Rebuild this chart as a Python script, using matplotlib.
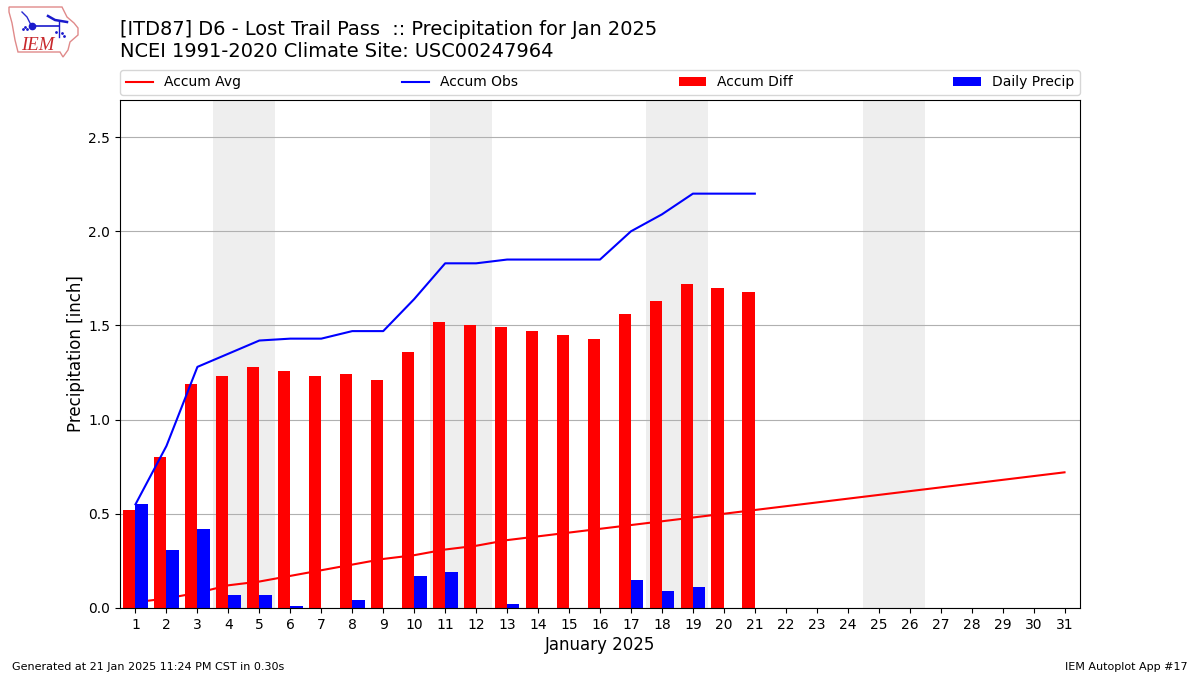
import matplotlib
matplotlib.use("Agg")
import matplotlib.pyplot as plt
from matplotlib.patches import Polygon

days = list(range(1, 32))
accum_avg = [0.03,0.05,0.08,0.12,0.14,0.17,0.20,0.23,0.26,0.28,0.31,0.33,0.36,0.38,0.40,0.42,0.44,0.46,0.48,0.50,0.52,
             0.54,0.56,0.58,0.60,0.62,0.64,0.66,0.68,0.70,0.72]
accum_obs = [0.55,0.86,1.28,1.35,1.42,1.43,1.43,1.47,1.47,1.64,1.83,1.83,1.85,1.85,1.85,1.85,2.00,2.09,2.20,2.20,2.20]
accum_diff = [0.52,0.80,1.19,1.23,1.28,1.26,1.23,1.24,1.21,1.36,1.52,1.50,1.49,1.47,1.45,1.43,1.56,1.63,1.72,1.70,1.68]
daily = [0.55,0.31,0.42,0.07,0.07,0.01,0,0.04,0,0.17,0.19,0,0.02,0,0,0,0.15,0.09,0.11,0,0]
weekend_starts = [4, 11, 18, 25]
title_1 = "[ITD87] D6 - Lost Trail Pass  :: Precipitation for Jan 2025"
title_2 = "NCEI 1991-2020 Climate Site: USC00247964"

fig = plt.figure(figsize=(12, 6.75), dpi=100)
ax = fig.add_axes([120/1200, 1-607.9/675, 960/1200, 508.4/675])
for d in weekend_starts:
    ax.axvspan(d-0.5, d+1.5, color="#eeeeee", zorder=0, lw=0)
w = 0.4
obs_days = days[:21]
ax.plot(days, accum_avg, color="red", lw=1.5, label="Accum Avg", zorder=1.5)
ax.bar([d-w/2 for d in obs_days], accum_diff, w, color="red", label="Accum Diff", zorder=2)
ax.bar([d+w/2 for d in obs_days], daily, w, color="blue", label="Daily Precip", zorder=2)
ax.plot(obs_days, accum_obs, color="blue", lw=1.5, label="Accum Obs", zorder=3)
ax.set_xlim(0.5, 31.5)
ax.set_ylim(0, 2.7)
ax.set_xticks(days)
ax.set_yticks([0,0.5,1,1.5,2,2.5])
ax.set_axisbelow(True)
ax.grid(axis="y", color="#b0b0b0", lw=0.8, zorder=1)
ax.set_xlabel("January 2025", fontsize=12, labelpad=3)
ax.set_ylabel("Precipitation [inch]", fontsize=12, labelpad=2.5)
h, l = ax.get_legend_handles_labels()
order = [l.index(x) for x in ["Accum Avg", "Accum Obs", "Accum Diff", "Daily Precip"]]
ax.legend([h[i] for i in order], [l[i] for i in order], ncol=4, mode="expand",
          loc="lower left", bbox_to_anchor=(0, 1+4.5/508.4, 1, 0.05), borderaxespad=0.0,
          fontsize=10)
fig.text(120/1200, 1-29.5/675, title_1, fontsize=13.99, va="center")
fig.text(120/1200, 1-51.5/675, title_2, fontsize=13.99, va="center")
fig.text(12/1200, 1-666.5/675, "Generated at 21 Jan 2025 11:24 PM CST in 0.30s", fontsize=8, va="center")
fig.text(1188/1200, 1-666.5/675, "IEM Autoplot App #17", fontsize=8, va="center", ha="right")

# logo
logo = fig.add_axes([0, 1-60/675, 80/1200, 60/675])
logo.set_xlim(0, 80); logo.set_ylim(60, 0); logo.axis("off")
outline = [(9,7),(62,7),(67,17),(74,23),(78,28),(78,35),(70,42),(68,50),(63,57),(60,52),(18,52),(15,40),(12,23),(9,12)]
logo.add_patch(Polygon(outline, closed=True, fill=False, ec="#e08a8a", lw=1))
logo.text(21, 45, "IEM", color="#c8282c", fontsize=13.5, family="Liberation Serif", style="italic", va="center")
logo.plot([22,27,31],[12,17,25], color="#2a2ad0", lw=1)
logo.plot([32,59],[26,26], color="#1a1acc", lw=1.2)
logo.plot([59,59],[22,37], color="#1a1acc", lw=1)
logo.plot([48,55,67],[16,20,22], color="#1a1acc", lw=1.8)
logo.plot([32],[26], "o", color="#1a1acc", ms=4.5)
logo.plot([23,25,27],[29,27,29], ".", color="#1a1acc", ms=2)
logo.plot([56,62,64],[32,33,36], ".", color="#1a1acc", ms=2)
fig.savefig("out.png", dpi=100)
